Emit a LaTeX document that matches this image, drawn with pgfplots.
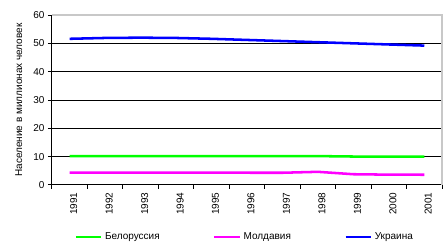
\documentclass[border=0pt]{standalone}
\usepackage{fontspec}
\setmainfont{Liberation Sans}
\usepackage{pgfplots}
\pgfplotsset{compat=1.18}
\begin{document}
\fontsize{7.5}{9}\selectfont
\begin{tikzpicture}[x=0.75pt,y=0.75pt]
\begin{axis}[
  scale only axis,
  width=292.5pt, height=127.5pt,
  xmin=-0.5, xmax=10.5,
  ymin=0, ymax=60,
  ytick={0,10,...,60},
  xtick={0,...,10},
  xticklabels={1991,1992,1993,1994,1995,1996,1997,1998,1999,2000,2001},
  minor xtick={-0.5,0.5,...,10.5},
  x tick label style={rotate=90, anchor=east, font=\fontsize{7.5}{9}\selectfont},
  y tick label style={font=\fontsize{7.5}{9}\selectfont},
  /pgf/number format/assume math mode=true,
  axis lines=left,
  axis line style={-, black, line width=0.75pt},
  major tick length=3pt,
  minor tick length=3pt,
  xtick style={draw=none},
  minor x tick style={draw=black, line width=0.75pt},
  ytick style={black, line width=0.75pt},
  tick align=outside,
  ymajorgrids,
  grid style={black, line width=0.75pt},
  ylabel={Население в миллионах человек},
  ylabel style={font=\fontsize{7.5}{9}\selectfont},
  ylabel shift=3pt,
  xticklabel style={yshift=-3pt},
  legend columns=3,
  legend style={draw=none, fill=none, at={(0.495,-0.306)}, anchor=center,
    font=\fontsize{7.5}{9}\selectfont, /tikz/every even column/.append style={column sep=38pt}},
  legend image code/.code={\draw[#1, line width=1.9pt] (0pt,0pt) -- (19pt,0pt);},
  clip=false,
]
\addplot[color={rgb,255:red,0;green,255;blue,0}, line width=1.9pt] coordinates {
(0,10.2) (1,10.2) (2,10.2) (3,10.2) (4,10.2) (5,10.2) (6,10.2) (7,10.2) (8,10.05) (9,10.0) (10,10.0)};
\addlegendentry{Белоруссия}
\addplot[color={rgb,255:red,255;green,0;blue,255}, line width=1.9pt] coordinates {
(0,4.36) (1,4.36) (2,4.35) (3,4.35) (4,4.34) (5,4.33) (6,4.32) (7,4.65) (8,3.8) (9,3.65) (10,3.62)};
\addlegendentry{Молдавия}
\addplot[color={rgb,255:red,0;green,0;blue,255}, line width=1.9pt] coordinates {
(0,51.6) (1,51.9) (2,52.0) (3,51.9) (4,51.6) (5,51.2) (6,50.8) (7,50.4) (8,50.0) (9,49.6) (10,49.2)};
\addlegendentry{Украина}
\draw[color={rgb,255:red,200;green,200;blue,200}, line width=1pt] (rel axis cs:0,1) -- (rel axis cs:1,1) -- (rel axis cs:1,0);
\end{axis}
\pgfresetboundingbox
\path (-39pt,-48.75pt) rectangle (296.25pt,138.75pt);
\end{tikzpicture}
\end{document}
